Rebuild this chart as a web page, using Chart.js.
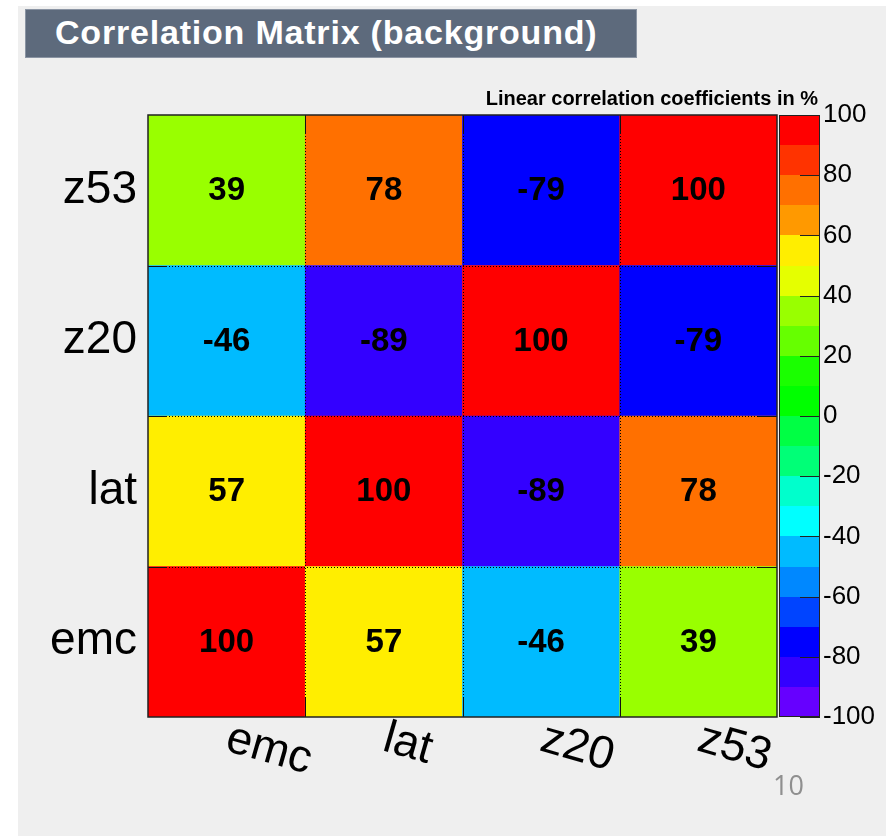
<!DOCTYPE html>
<html>
<head>
<meta charset="utf-8">
<title>Correlation Matrix (background)</title>
<script src="https://cdn.jsdelivr.net/npm/chart.js@4/dist/chart.umd.min.js"></script>
<style>
  html, body { margin: 0; padding: 0; background: #ffffff; }
  body { width: 892px; height: 836px; position: relative; overflow: hidden; }
  #panel { position: absolute; left: 18px; top: 6px; width: 868px; height: 830px; background: #efefef; }
  #title {
    position: absolute; left: 25px; top: 9px; width: 581px; height: 47px;
    background: #5d6a7c; border: 1px solid #8a94a3;
    color: #ffffff; font: bold 34px "Liberation Sans", Arial, sans-serif;
    letter-spacing: 0.8px; line-height: 45px; padding-left: 29px; box-sizing: content-box;
    white-space: nowrap; overflow: hidden;
  }
  #chart { position: absolute; left: 0; top: 0; }
</style>
</head>
<body>
<div id="panel"></div>
<div id="title">Correlation Matrix (background)</div>
<canvas id="chart" width="892" height="836"></canvas>
<script>
// Variables, listed bottom-to-top for rows and left-to-right for columns
const rowLabels = ['emc', 'lat', 'z20', 'z53'];
const colLabels = ['emc', 'lat', 'z20', 'z53'];

// Linear correlation coefficients in %, one array per row (bottom to top)
const rowEmc = [100, 57, -46, 39];
const rowLat = [57, 100, -89, 78];
const rowZ20 = [-46, -89, 100, -79];
const rowZ53 = [39, 78, -79, 100];
const corr = [rowEmc, rowLat, rowZ20, rowZ53];

// Colour contour levels and the palette colour of each band
const levels = [-100, -90, -80, -70, -60, -50, -40, -30, -20, -10, 0,
                10, 20, 30, 40, 50, 60, 70, 80, 90, 100];
const palette = ['#6600ff', '#3300ff', '#0000ff', '#0044ff', '#0088ff',
                 '#00bbff', '#00ffff', '#00ffcc', '#00ff77', '#00ff44',
                 '#00ff00', '#1aff00', '#66ff00', '#99ff00', '#e5ff00',
                 '#ffee00', '#ff9900', '#ff7000', '#ff3300', '#ff0000'];
const scaleTicks = [-100, -80, -60, -40, -20, 0, 20, 40, 60, 80, 100];

const zTitle = 'Linear correlation coefficients in %';
const pageNumber = '10';

function colorFor(v) {
  for (let i = 0; i < palette.length; i++) {
    if (v < levels[i + 1]) return palette[i];
  }
  return palette[palette.length - 1];
}

const datasets = rowLabels.map((name, r) => ({
  label: name,
  data: colLabels.map(() => [r, r + 1]),
  values: corr[r],
  backgroundColor: corr[r].map(colorFor),
  borderWidth: 0,
  barPercentage: 1,
  categoryPercentage: 1
}));

const FONT = '"Liberation Sans", Arial, sans-serif';

const matrixDecor = {
  id: 'matrixDecor',
  afterDatasetsDraw(chart) {
    const { ctx, chartArea: a, scales } = chart;
    const x = scales.x, y = scales.y, yc = scales.yc;
    ctx.save();

    // cell values
    ctx.fillStyle = '#000';
    ctx.font = 'bold 33px ' + FONT;
    ctx.textAlign = 'center';
    ctx.textBaseline = 'middle';
    chart.data.datasets.forEach((ds, di) => {
      const meta = chart.getDatasetMeta(di);
      meta.data.forEach((el, i) => {
        ctx.fillText(String(ds.values[i]), el.x, (el.y + el.base) / 2 + 1);
      });
    });

    // dotted separators between cells
    ctx.strokeStyle = '#000';
    ctx.lineWidth = 1;
    ctx.setLineDash([1, 2]);
    const colEdges = [];
    for (let i = 1; i < colLabels.length; i++) {
      colEdges.push(Math.round((x.getPixelForValue(i - 1) + x.getPixelForValue(i)) / 2) + 0.5);
    }
    const rowEdges = [];
    for (let r = 1; r < rowLabels.length; r++) {
      rowEdges.push(Math.round(y.getPixelForValue(r)) + 0.5);
    }
    ctx.beginPath();
    colEdges.forEach(px => { ctx.moveTo(px, a.top); ctx.lineTo(px, a.bottom); });
    rowEdges.forEach(py => { ctx.moveTo(a.left, py); ctx.lineTo(a.right, py); });
    ctx.stroke();

    // axis tick marks on all four sides
    ctx.setLineDash([]);
    ctx.strokeStyle = '#111';
    const tl = 19;
    ctx.beginPath();
    colEdges.forEach(px => {
      ctx.moveTo(px, a.top); ctx.lineTo(px, a.top + tl);
      ctx.moveTo(px, a.bottom); ctx.lineTo(px, a.bottom - tl);
    });
    rowEdges.forEach(py => {
      ctx.moveTo(a.left, py); ctx.lineTo(a.left + tl, py);
      ctx.moveTo(a.right, py); ctx.lineTo(a.right - tl, py);
    });
    ctx.stroke();

    // frame
    ctx.strokeStyle = '#222';
    ctx.lineWidth = 1.5;
    ctx.strokeRect(a.left, a.top, a.right - a.left, a.bottom - a.top);

    // rotated column labels
    ctx.fillStyle = '#000';
    ctx.font = '46px ' + FONT;
    ctx.textAlign = 'left';
    ctx.textBaseline = 'alphabetic';
    colLabels.forEach((lab, i) => {
      ctx.save();
      ctx.translate(x.getPixelForValue(i) - 3, a.bottom + 33);
      ctx.rotate(16 * Math.PI / 180);
      ctx.fillText(lab, 0, 0);
      ctx.restore();
    });

    // colour scale
    const cbL = a.right + 2, cbR = a.right + 43;
    for (let i = 0; i < palette.length; i++) {
      const yTop = yc.getPixelForValue(levels[i + 1]);
      const yBot = yc.getPixelForValue(levels[i]);
      ctx.fillStyle = palette[i];
      ctx.fillRect(cbL, Math.round(yTop), cbR - cbL, Math.round(yBot) - Math.round(yTop));
    }
    ctx.strokeStyle = '#222';
    ctx.lineWidth = 1;
    ctx.strokeRect(cbL + 0.5, Math.round(yc.top) + 0.5, cbR - cbL - 1, Math.round(yc.bottom - yc.top) - 1);
    ctx.beginPath();
    scaleTicks.forEach(t => {
      const py = Math.round(yc.getPixelForValue(t)) + 0.5;
      ctx.moveTo(cbR - 20, py); ctx.lineTo(cbR, py);
    });
    ctx.stroke();

    // colour scale title
    ctx.fillStyle = '#000';
    ctx.font = 'bold 20px ' + FONT;
    ctx.textAlign = 'right';
    ctx.textBaseline = 'alphabetic';
    ctx.fillText(zTitle, cbR - 2, a.top - 10);

    // page number
    ctx.fillStyle = '#8f8f8f';
    ctx.font = '27px "Open Sans", sans-serif';
    ctx.textAlign = 'left';
    ctx.fillText(pageNumber, 773, 795);

    ctx.restore();
  }
};

new Chart(document.getElementById('chart'), {
  type: 'bar',
  data: { labels: colLabels, datasets },
  options: {
    responsive: false,
    animation: false,
    devicePixelRatio: 1,
    layout: { padding: { top: 115, left: 0, right: 0, bottom: 0 } },
    plugins: { legend: { display: false }, tooltip: { enabled: false }, title: { display: false } },
    scales: {
      x: {
        type: 'category',
        stacked: true,
        offset: true,
        grid: { display: false, drawTicks: false },
        border: { display: false },
        ticks: { display: false },
        afterFit(axis) { axis.height = 119; }
      },
      y: {
        type: 'linear',
        position: 'left',
        min: 0,
        max: rowLabels.length,
        grid: { display: false, drawTicks: false },
        border: { display: false },
        afterBuildTicks(axis) {
          axis.ticks = rowLabels.map((_, r) => ({ value: r + 0.5 }));
        },
        ticks: {
          autoSkip: false,
          padding: 11,
          color: '#000',
          font: { family: FONT, size: 46 },
          callback: (v) => rowLabels[Math.floor(v)]
        },
        afterFit(axis) { axis.width = 148; }
      },
      yc: {
        type: 'linear',
        position: 'right',
        min: levels[0],
        max: levels[levels.length - 1],
        grid: { display: false, drawTicks: false },
        border: { display: false },
        afterBuildTicks(axis) {
          axis.ticks = scaleTicks.map(v => ({ value: v }));
        },
        ticks: {
          autoSkip: false,
          padding: 46,
          color: '#000',
          font: { family: FONT, size: 26 }
        },
        afterFit(axis) { axis.width = 115; }
      }
    }
  },
  plugins: [matrixDecor]
});
</script>
</body>
</html>
